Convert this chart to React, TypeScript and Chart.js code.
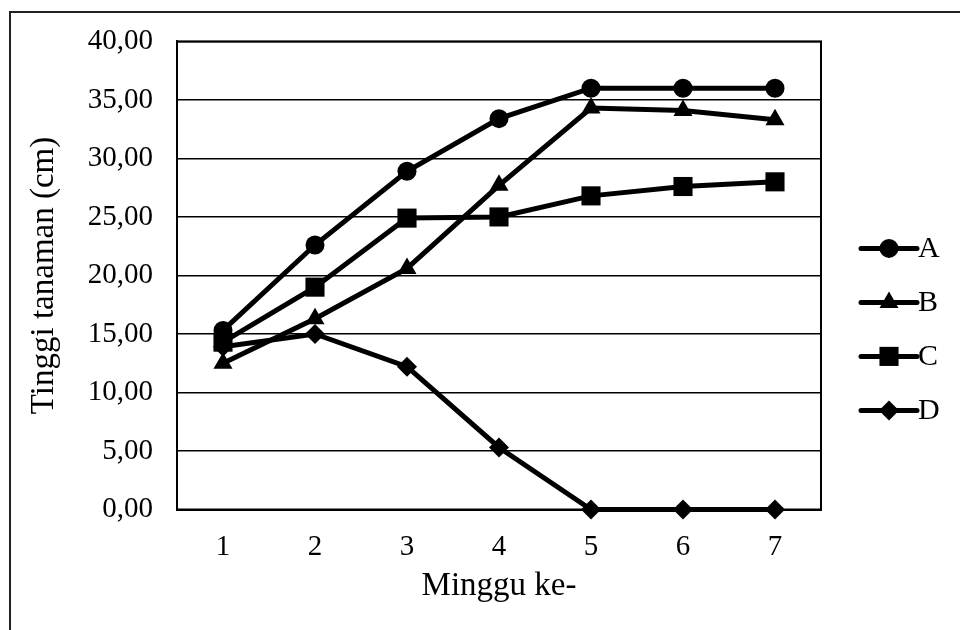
import React, { useEffect, useRef } from "react";
import { Chart, registerables } from "chart.js";

Chart.register(...registerables);

// Weeks after planting
const weeks = ["1", "2", "3", "4", "5", "6", "7"];

// Plant height (cm) per treatment
const seriesA = [15.3, 22.6, 28.9, 33.4, 36.0, 36.0, 36.0];
const seriesB = [12.5, 16.3, 20.6, 27.7, 34.3, 34.1, 33.3];
const seriesC = [14.3, 19.0, 24.9, 25.0, 26.8, 27.6, 28.0];
const seriesD = [13.9, 15.0, 12.2, 5.3, 0.0, 0.0, 0.0];

const seriesNames = ["A", "B", "C", "D"];
const yTickLabels = ["0,00", "5,00", "10,00", "15,00", "20,00", "25,00", "30,00", "35,00", "40,00"];

const FONT = "'Liberation Serif', 'Times New Roman', serif";

const markers = [
  { style: "circle", radius: 9.5 },
  { style: "triangle", radius: 11 },
  { style: "rect", radius: 13.5 },
  { style: "rectRot", radius: 10 },
];

// Frame around the plotting area
const framePlugin = {
  id: "plotFrame",
  afterDatasetsDraw(chart: any) {
    const { ctx, chartArea } = chart;
    ctx.save();
    ctx.strokeStyle = "#000";
    ctx.lineWidth = 2;
    ctx.strokeRect(chartArea.left, chartArea.top, chartArea.right - chartArea.left, chartArea.bottom - chartArea.top);
    ctx.restore();
  },
};

// Legend with a line segment and marker per series
const legendPlugin = {
  id: "lineLegend",
  afterDraw(chart: any) {
    const { ctx, chartArea } = chart;
    const x0 = chartArea.right + 40;
    const x1 = x0 + 56;
    const firstY = chartArea.top + 207;
    const gap = 54;
    ctx.save();
    chart.data.datasets.forEach((ds: any, i: number) => {
      const y = firstY + i * gap;
      ctx.strokeStyle = "#000";
      ctx.lineWidth = 5;
      ctx.lineCap = "round";
      ctx.beginPath();
      ctx.moveTo(x0, y);
      ctx.lineTo(x1, y);
      ctx.stroke();
      drawMarker(ctx, ds.pointStyle, ds.pointRadius, (x0 + x1) / 2, y);
      ctx.fillStyle = "#000";
      ctx.font = `30px ${FONT}`;
      ctx.textAlign = "left";
      ctx.textBaseline = "middle";
      ctx.fillText(ds.label, x1 + 1, y + 1);
    });
    ctx.restore();
  },
};

function drawMarker(ctx: CanvasRenderingContext2D, style: string, r: number, x: number, y: number) {
  ctx.fillStyle = "#000";
  ctx.beginPath();
  if (style === "circle") {
    ctx.arc(x, y, r, 0, Math.PI * 2);
  } else if (style === "triangle") {
    for (let k = 0; k < 3; k++) {
      const a = -Math.PI / 2 + (k * 2 * Math.PI) / 3;
      const px = x + r * Math.cos(a);
      const py = y + r * Math.sin(a);
      if (k === 0) ctx.moveTo(px, py);
      else ctx.lineTo(px, py);
    }
    ctx.closePath();
  } else if (style === "rect") {
    const s = Math.SQRT1_2 * r;
    ctx.rect(x - s, y - s, 2 * s, 2 * s);
  } else {
    ctx.moveTo(x, y - r);
    ctx.lineTo(x + r, y);
    ctx.lineTo(x, y + r);
    ctx.lineTo(x - r, y);
    ctx.closePath();
  }
  ctx.fill();
}

export default function App() {
  const canvasRef = useRef<HTMLCanvasElement | null>(null);

  useEffect(() => {
    if (!canvasRef.current) return;
    const values = [seriesA, seriesB, seriesC, seriesD];
    const chart = new Chart(canvasRef.current, {
      type: "line",
      data: {
        labels: weeks,
        datasets: values.map((v, i) => ({
          label: seriesNames[i],
          data: v,
          borderColor: "#000",
          backgroundColor: "#000",
          borderWidth: 5,
          tension: 0,
          pointStyle: markers[i].style as any,
          pointRadius: markers[i].radius,
          pointHoverRadius: markers[i].radius,
          pointBackgroundColor: "#000",
          pointBorderColor: "#000",
          pointBorderWidth: 0,
          clip: false as any,
        })),
      },
      options: {
        responsive: false,
        animation: false,
        layout: { padding: { top: 41, right: 139, bottom: 0, left: 0 } },
        plugins: {
          legend: { display: false },
          tooltip: { enabled: false },
        },
        scales: {
          x: {
            offset: true,
            grid: { display: false, drawTicks: false },
            border: { display: true, color: "#000", width: 2 },
            ticks: { color: "#000", font: { family: FONT, size: 29 }, padding: 20, maxRotation: 0 },
            title: {
              display: true,
              text: "Minggu ke-",
              color: "#000",
              font: { family: FONT, size: 33 },
              padding: { top: 0, bottom: 24 },
            },
            afterFit: (s: any) => {
              s.height = 120.5;
            },
          },
          y: {
            min: 0,
            max: 40,
            grid: { color: "#000", lineWidth: 1.5, drawTicks: false },
            border: { display: true, color: "#000", width: 2 },
            ticks: {
              stepSize: 5,
              color: "#000",
              font: { family: FONT, size: 29 },
              padding: 24,
              callback: (_v: any, idx: number) => yTickLabels[idx],
            },
            title: {
              display: true,
              text: "Tinggi tanaman (cm)",
              color: "#000",
              font: { family: FONT, size: 33 },
              padding: { top: 25, bottom: 0 },
            },
            afterFit: (s: any) => {
              s.width = 177;
            },
          },
        },
      },
      plugins: [framePlugin, legendPlugin],
    });
    return () => chart.destroy();
  }, []);

  return (
    <div style={{ position: "fixed", left: 0, top: 0, width: 960, height: 630, overflow: "hidden", background: "#fff" }}>
      <div
        style={{
          position: "absolute",
          left: 9,
          top: 11,
          width: 1000,
          height: 700,
          borderLeft: "2px solid #222",
          borderTop: "2px solid #222",
          boxSizing: "border-box",
        }}
      />
      <canvas ref={canvasRef} width={960} height={630} style={{ position: "absolute", left: 0, top: 0 }} />
    </div>
  );
}
